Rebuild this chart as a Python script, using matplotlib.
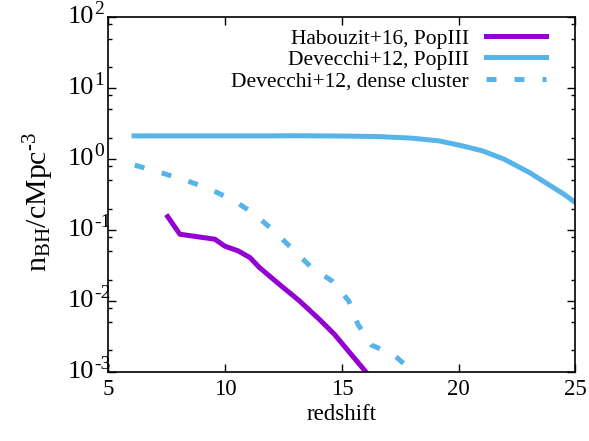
import numpy as np
import matplotlib
matplotlib.use('Agg')
import matplotlib.pyplot as plt
from matplotlib.ticker import LogLocator, NullFormatter

plt.rcParams['font.family'] = 'Liberation Serif'
plt.rcParams['mathtext.fontset'] = 'custom'
plt.rcParams['mathtext.rm'] = 'Liberation Serif'
plt.rcParams['mathtext.it'] = 'Liberation Serif:italic'

# Habouzit+16, PopIII
z_hab = [7.54, 8.06, 9.56, 9.99, 10.56, 11.06, 11.47, 12.32, 13.18, 14.03, 14.67, 15.31, 16.0, 16.2]
n_hab = [0.154, 0.087, 0.074, 0.059, 0.0506, 0.0408, 0.0295, 0.0171, 0.0100, 0.0055, 0.0034, 0.0019, 0.00102, 0.0008]

# Devecchi+12, PopIII
z_dev = [6.1, 8.0, 10.0, 12.0, 13.0, 14.0, 15.0, 16.6, 18.0, 18.74, 19.17, 20.17, 21.03, 21.96, 23.03, 24.03, 24.5, 25.0]
n_dev = [2.12, 2.12, 2.12, 2.12, 2.13, 2.12, 2.11, 2.07, 1.97, 1.86, 1.80, 1.53, 1.30, 0.99, 0.645, 0.40, 0.32, 0.243]

# Devecchi+12, dense cluster
z_dc = [6.13, 7.33, 8.4, 9.4, 10.4, 11.27, 12.13, 12.9, 13.68, 14.58, 15.29, 15.68, 16.25, 17.25, 17.9, 18.2]
n_dc = [0.82, 0.63, 0.49, 0.37, 0.257, 0.166, 0.094, 0.053, 0.030, 0.019, 0.010, 0.0047, 0.0024, 0.0017, 0.0011, 0.0009]

y_exps = [-3, -2, -1, 0, 1, 2]

purple = '#9400D3'
blue = '#56B4E9'
fs = 15.5

fig = plt.figure(figsize=(5.89, 4.41), dpi=100)
ax = fig.add_axes([0.184, 0.157, 0.793, 0.804])

lw = 3.6
ax.plot(z_hab, n_hab, color=purple, lw=lw, label='Habouzit+16, PopIII')
ax.plot(z_dev, n_dev, color=blue, lw=lw, label='Devecchi+12, PopIII')
ax.plot(z_dc, n_dc, color=blue, lw=lw, dashes=(2.0, 3.6), dash_capstyle='butt',
        label='Devecchi+12, dense cluster')

ax.set_yscale('log')
ax.set_xlim(5, 25)
ax.set_ylim(1e-3, 1e2)
ax.set_xticks([5, 10, 15, 20, 25])
ax.set_yticks([10.0 ** e for e in y_exps])
ax.yaxis.set_minor_locator(LogLocator(base=10, subs=(2, 5, 8), numticks=10))
ax.yaxis.set_major_formatter(NullFormatter())
ax.yaxis.set_minor_formatter(NullFormatter())

# gnuplot-style "10^n" labels: big base, large exponent with a plain hyphen
for e in y_exps:
    ax.annotate('10', xy=(0, 10.0 ** e), xycoords=('axes fraction', 'data'),
                xytext=(-10.5, 0), textcoords='offset points',
                ha='right', va='center', fontsize=19)
    ax.annotate(str(e), xy=(0, 10.0 ** e), xycoords=('axes fraction', 'data'),
                xytext=(-10.0, 5.5), textcoords='offset points',
                ha='left', va='center', fontsize=14)

ax.tick_params(which='both', direction='in', top=True, right=True, width=1)
ax.tick_params(axis='x', labelsize=16.5, pad=5)
ax.tick_params(which='major', length=6)
ax.tick_params(which='minor', length=3)
for s in ax.spines.values():
    s.set_linewidth(1.2)

ax.set_xlabel('redshift', fontsize=16.5, labelpad=3)
ax.set_ylabel('n$_{\\rm BH}$/cMpc$^{\\rm \u20103}$', fontsize=21.5)
ax.yaxis.set_label_coords(-0.113, 0.48)

ax.legend(loc='upper right', frameon=False, markerfirst=False, fontsize=fs,
          handlelength=2.8, handletextpad=0.8, labelspacing=0.05,
          borderaxespad=0.3, bbox_to_anchor=(0.97, 1.01))

fig.savefig('out.png', dpi=100)
